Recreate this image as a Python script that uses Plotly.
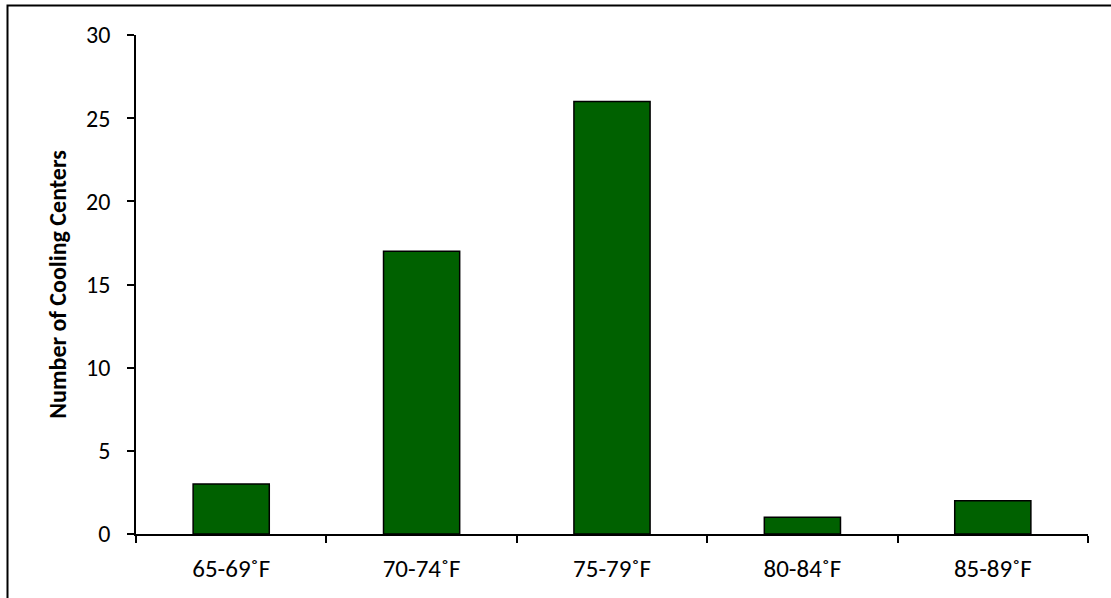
import plotly.graph_objects as go

categories = ["65-69˚F", "70-74˚F", "75-79˚F", "80-84˚F", "85-89˚F"]
counts = [3, 17, 26, 1, 2]
y_ticks = [0, 5, 10, 15, 20, 25, 30]

W, H = 1111, 598
L, R, T, B = 136, 23, 35, 64
pw, ph = W - L - R, H - T - B

fig = go.Figure(
    go.Bar(
        x=categories,
        y=counts,
        marker=dict(color="#006100", line=dict(color="#000000", width=1.5)),
        width=0.4,
    )
)

font_family = "Carlito, Calibri, 'Open Sans', sans-serif"

fig.update_layout(
    width=W,
    height=H,
    margin=dict(l=L, r=R, t=T, b=B, pad=0),
    paper_bgcolor="white",
    plot_bgcolor="white",
    showlegend=False,
    font=dict(family=font_family, size=24, color="#000000"),
    xaxis=dict(
        type="category",
        showline=True,
        linecolor="#000000",
        linewidth=1.5,
        ticks="outside",
        tickson="boundaries",
        ticklen=7,
        tickwidth=1.5,
        tickcolor="#000000",
        showgrid=False,
        ticklabelstandoff=11,
        tickfont=dict(size=25),
    ),
    yaxis=dict(
        range=[0, 30],
        tickvals=y_ticks,
        showline=True,
        linecolor="#000000",
        linewidth=1.5,
        ticks="outside",
        ticklen=7,
        tickwidth=1.5,
        tickcolor="#000000",
        showgrid=False,
        zeroline=False,
        ticklabelstandoff=12,
        tickfont=dict(size=24),
        title=dict(
            text="<b>Number of Cooling Centers</b>",
            font=dict(size=24),
            standoff=13,
        ),
    ),
    shapes=[
        dict(
            type="rect",
            xref="paper",
            yref="paper",
            x0=(7.5 - L) / pw,
            x1=(W + 20 - L) / pw,
            y0=-(B + 20) / ph,
            y1=1 + (T - 5.5) / ph,
            line=dict(color="#000000", width=2),
            fillcolor="rgba(0,0,0,0)",
            layer="above",
        )
    ],
)

fig.write_html("out.html")
